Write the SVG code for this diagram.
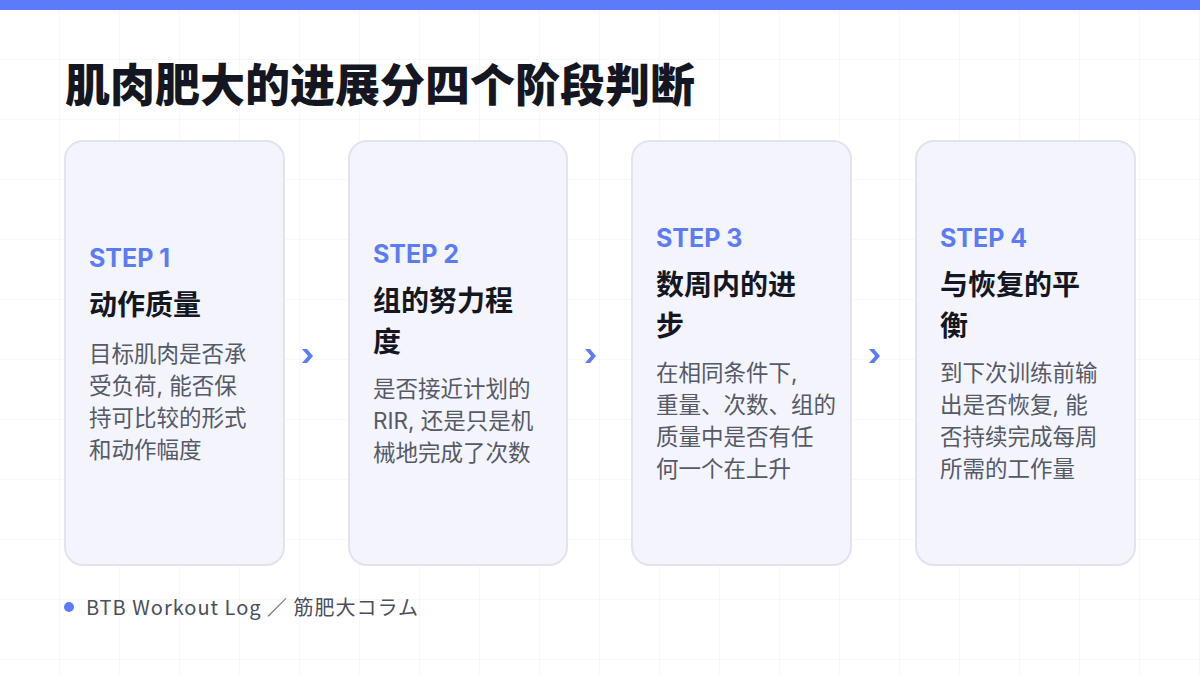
<svg xmlns="http://www.w3.org/2000/svg" width="1200" height="675" viewBox="0 0 1200 675">
<defs>
<pattern id="grid" width="60" height="60" patternUnits="userSpaceOnUse"><path d="M60 0V60H0" fill="none" stroke="#f0f1f5" stroke-width="1"/></pattern>
<style>
text{font-family:"Noto Sans CJK SC","Noto Sans",sans-serif}
.card{fill:#f3f4fc;stroke:#e1e4ef;stroke-width:2}
.step{font-family:Inter,"Noto Sans",sans-serif;font-weight:700;font-size:25px;fill:#5b7cf6}
.tt{font-weight:700;font-size:28px;fill:#141722}
.bd{font-family:Inter,"Noto Sans CJK SC",sans-serif;font-size:22.5px;fill:#555a66}
.chev{fill:#5b7cf6}
</style>
</defs>
<rect width="1200" height="675" fill="#fff"/>
<rect width="1200" height="675" fill="url(#grid)"/>
<rect width="1200" height="10" fill="#5b7cf6"/>
<text x="65" y="102" font-size="45" font-weight="900" fill="#141722">肌肉肥大的进展分四个阶段判断</text>
<g id="connectors">
<path class="chev" d="M302 349h5l6 7l-6 7h-5l6-7z"/>
<path class="chev" d="M585 349h5l6 7l-6 7h-5l6-7z"/>
<path class="chev" d="M869 349h5l6 7l-6 7h-5l6-7z"/>
</g>
<g id="step1">
<rect class="card" x="65" y="141" width="219" height="424" rx="18"/>
<text class="step" x="89" y="267">STEP 1</text>
<text class="tt" x="89" y="315">动作质量</text>
<text class="bd" x="89" y="362">目标肌肉是否承</text>
<text class="bd" x="89" y="394">受负荷, 能否保</text>
<text class="bd" x="89" y="426">持可比较的形式</text>
<text class="bd" x="89" y="458">和动作幅度</text>
</g>
<g id="step2">
<rect class="card" x="349" y="141" width="218" height="424" rx="18"/>
<text class="step" x="373" y="263">STEP 2</text>
<text class="tt" x="373" y="311">组的努力程</text>
<text class="tt" x="373" y="352">度</text>
<text class="bd" x="373" y="397">是否接近计划的</text>
<text class="bd" x="373" y="429">RIR, 还是只是机</text>
<text class="bd" x="373" y="461">械地完成了次数</text>
</g>
<g id="step3">
<rect class="card" x="632" y="141" width="219" height="424" rx="18"/>
<text class="step" x="656" y="247">STEP 3</text>
<text class="tt" x="656" y="295">数周内的进</text>
<text class="tt" x="656" y="336">步</text>
<text class="bd" x="656" y="381">在相同条件下,</text>
<text class="bd" x="656" y="413">重量、次数、组的</text>
<text class="bd" x="656" y="445">质量中是否有任</text>
<text class="bd" x="656" y="477">何一个在上升</text>
</g>
<g id="step4">
<rect class="card" x="916" y="141" width="219" height="424" rx="18"/>
<text class="step" x="940" y="247">STEP 4</text>
<text class="tt" x="940" y="295">与恢复的平</text>
<text class="tt" x="940" y="336">衡</text>
<text class="bd" x="940" y="381">到下次训练前输</text>
<text class="bd" x="940" y="413">出是否恢复, 能</text>
<text class="bd" x="940" y="445">否持续完成每周</text>
<text class="bd" x="940" y="477">所需的工作量</text>
</g>
<g id="footer">
<circle cx="69" cy="607" r="5" fill="#5b7cf6"/>
<text x="86" y="615" font-size="20" letter-spacing="1" fill="#4a4f5c" font-family="Inter,'Noto Sans CJK SC',sans-serif">BTB Workout Log ／ 筋肥大コラム</text>
</g>
</svg>
